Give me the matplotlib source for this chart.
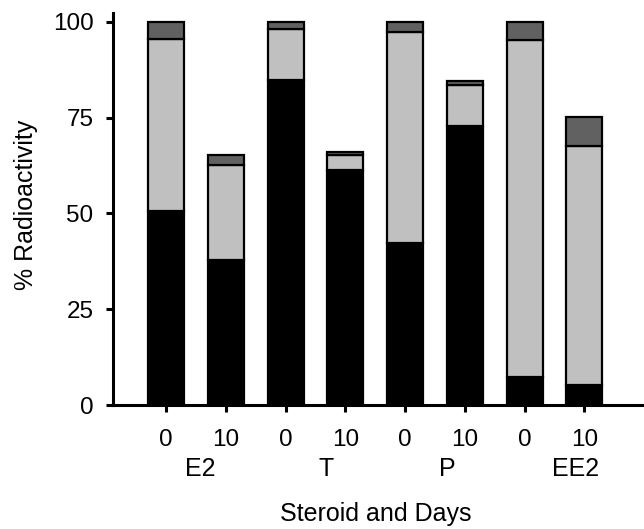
import matplotlib
matplotlib.use("Agg")
import matplotlib.pyplot as plt
import numpy as np

plt.rcParams['font.family'] = ['Liberation Sans', 'DejaVu Sans']

steroids = ["E2", "T", "P", "EE2"]
days = ["0", "10", "0", "10", "0", "10", "0", "10"]
# cumulative tops of each stacked segment (% radioactivity)
black_top = [50.6, 37.8, 84.8, 61.3, 42.2, 72.9, 7.3, 5.2]
light_top = [95.4, 62.5, 98.1, 65.3, 97.2, 83.4, 95.2, 67.6]
dark_top = [100.0, 65.1, 100.0, 66.1, 100.0, 84.6, 100.0, 75.1]

black = np.array(black_top)
light = np.array(light_top) - black
dark = np.array(dark_top) - np.array(light_top)

fig = plt.figure(figsize=(6.44, 5.29), dpi=100)
ax = fig.add_axes([113/644, 1 - 405/529, 1 - 113/644 + 0.002, (405 - 13.3)/529])

x = np.arange(len(days))
w = 0.6
lw = 1.6
ax.bar(x, black, w, color="black", edgecolor="black", linewidth=lw, zorder=2)
ax.bar(x, light, w, bottom=black, color="#c0c0c0", edgecolor="black", linewidth=lw, zorder=2)
ax.bar(x, dark, w, bottom=black + light, color="#616161", edgecolor="black", linewidth=lw, zorder=2)

ax.set_xlim(-0.89, 8.02)
ax.set_ylim(0, 102.2)
ax.set_yticks([0, 25, 50, 75, 100])
ax.set_xticks(x)
ax.set_xticklabels(days)
for s in ["top", "right"]:
    ax.spines[s].set_visible(False)
for s in ["left", "bottom"]:
    ax.spines[s].set_linewidth(2.2)
ax.tick_params(axis="both", width=2.2, length=5, labelsize=17.5)
ax.tick_params(axis="y", pad=9)
ax.tick_params(axis="x", pad=12)

# group labels
offsets = [0.57, 0.67, 0.70, 0.85]
for i, name in enumerate(steroids):
    ax.text(2 * i + offsets[i], -16.6, name, ha="center", va="center",
            fontsize=18, transform=ax.transData, clip_on=False)

fig.text(26/644, 1 - 205/529, "% Radioactivity", rotation=90, ha="center", va="center", fontsize=18)
fig.text(376/644, 1 - 514/529, "Steroid and Days", ha="center", va="center", fontsize=18)

fig.savefig("out.png", dpi=100)
